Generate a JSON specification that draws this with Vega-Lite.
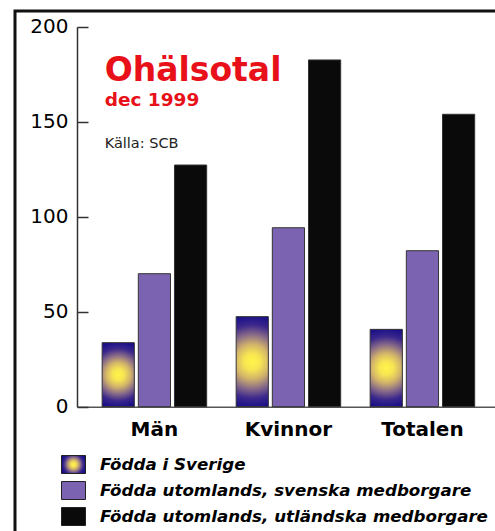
{
  "$schema": "https://vega.github.io/schema/vega-lite/v6.json",
  "width": 482,
  "height": 522,
  "autosize": {"type": "none"},
  "padding": {"left": 15, "top": 11, "right": -2, "bottom": -2},
  "background": "white",
  "config": {"view": {"stroke": "#111", "strokeWidth": 3}},
  "data": {
    "values": [
      {"grupp": "Män", "serie": "Födda i Sverige", "varde": 33.7},
      {"grupp": "Män", "serie": "Födda utomlands, svenska medborgare", "varde": 70.0},
      {"grupp": "Män", "serie": "Födda utomlands, utländska medborgare", "varde": 127.2},
      {"grupp": "Kvinnor", "serie": "Födda i Sverige", "varde": 47.4},
      {"grupp": "Kvinnor", "serie": "Födda utomlands, svenska medborgare", "varde": 94.2},
      {"grupp": "Kvinnor", "serie": "Födda utomlands, utländska medborgare", "varde": 182.5},
      {"grupp": "Totalen", "serie": "Födda i Sverige", "varde": 40.7},
      {"grupp": "Totalen", "serie": "Födda utomlands, svenska medborgare", "varde": 82.1},
      {"grupp": "Totalen", "serie": "Födda utomlands, utländska medborgare", "varde": 153.9}
    ]
  },
  "layer": [
    {
      "mark": {"type": "bar", "stroke": "#333", "strokeWidth": 1},
      "encoding": {
        "x": {
          "field": "grupp",
          "type": "nominal",
          "scale": {"domain": ["Män", "Kvinnor", "Totalen"], "range": [62, 482], "paddingInner": 0.22, "paddingOuter": 0.177, "align": 0.53},
          "axis": {
            "orient": "bottom",
            "offset": -126.3,
            "title": null,
            "ticks": false,
            "domainColor": "#555",
            "domainWidth": 1.5,
            "labelFont": "DejaVu Sans",
            "labelFontWeight": "bold",
            "labelFontSize": 20,
            "labelColor": "#000",
            "labelPadding": 13,
            "labelAngle": 0
          }
        },
        "xOffset": {
          "field": "serie",
          "type": "nominal",
          "scale": {"domain": ["Födda i Sverige", "Födda utomlands, svenska medborgare", "Födda utomlands, utländska medborgare"], "paddingInner": 0.11, "paddingOuter": 0}
        },
        "y": {
          "field": "varde",
          "type": "quantitative",
          "scale": {"domain": [0, 200], "range": [395.7, 15.7], "nice": false},
          "axis": {
            "orient": "left",
            "offset": -62,
            "values": [0, 50, 100, 150, 200],
            "title": null,
            "grid": false,
            "tickSize": -11,
            "tickColor": "#333",
            "tickWidth": 1.5,
            "domainColor": "#333",
            "domainWidth": 1.5,
            "labelFont": "DejaVu Sans",
            "labelFontSize": 20,
            "labelColor": "#000",
            "labelPadding": 20
          }
        },
        "color": {
          "field": "serie",
          "type": "nominal",
          "scale": {
            "domain": ["Födda i Sverige", "Födda utomlands, svenska medborgare", "Födda utomlands, utländska medborgare"],
            "range": [
              {"expr": "{gradient: 'radial', x1: 0.5, y1: 0.5, r1: 0, x2: 0.5, y2: 0.5, r2: 0.6, stops: [{offset: 0, color: '#fff54a'}, {offset: 0.15, color: '#f8e552'}, {offset: 0.32, color: '#d2b46a'}, {offset: 0.5, color: '#8a6c88'}, {offset: 0.68, color: '#3c288c'}, {offset: 0.85, color: '#1c1088'}, {offset: 1, color: '#150a7e'}]}"},
              "#7c63b2",
              "#0a0a0a"
            ]
          },
          "legend": {
            "orient": "none",
            "legendX": 46,
            "legendY": 441,
            "title": null,
            "direction": "vertical",
            "padding": 0,
            "symbolType": "M-1,-0.75L1,-0.75L1,0.75L-1,0.75Z",
            "symbolSize": 576,
            "symbolStrokeColor": "#222",
            "symbolStrokeWidth": 1,
            "labelFont": "DejaVu Sans",
            "labelFontWeight": "bold",
            "labelFontStyle": "italic",
            "labelFontSize": 16.7,
            "labelColor": "#000",
            "labelOffset": 14,
            "rowPadding": 2,
            "labelLimit": 500
          }
        }
      }
    },
    {
      "data": {"values": [{"t": "Ohälsotal"}]},
      "mark": {"type": "text", "align": "left", "baseline": "alphabetic", "font": "DejaVu Sans", "fontWeight": "bold", "fontSize": 33, "color": "#e8111a", "dx": 2.5},
      "encoding": {
        "x": {"datum": "Män", "type": "nominal", "bandPosition": 0},
        "y": {"datum": 171.5, "type": "quantitative"},
        "text": {"field": "t"}
      }
    },
    {
      "data": {"values": [{"t": "dec 1999"}]},
      "mark": {"type": "text", "align": "left", "baseline": "alphabetic", "font": "DejaVu Sans", "fontWeight": "bold", "fontSize": 18.5, "color": "#e8111a", "dx": 2.5},
      "encoding": {
        "x": {"datum": "Män", "type": "nominal", "bandPosition": 0},
        "y": {"datum": 158.3, "type": "quantitative"},
        "text": {"field": "t"}
      }
    },
    {
      "data": {"values": [{"t": "Källa: SCB"}]},
      "mark": {"type": "text", "align": "left", "baseline": "alphabetic", "font": "DejaVu Sans", "fontSize": 14.5, "color": "#222", "dx": 2.5},
      "encoding": {
        "x": {"datum": "Män", "type": "nominal", "bandPosition": 0},
        "y": {"datum": 136.2, "type": "quantitative"},
        "text": {"field": "t"}
      }
    }
  ]
}
